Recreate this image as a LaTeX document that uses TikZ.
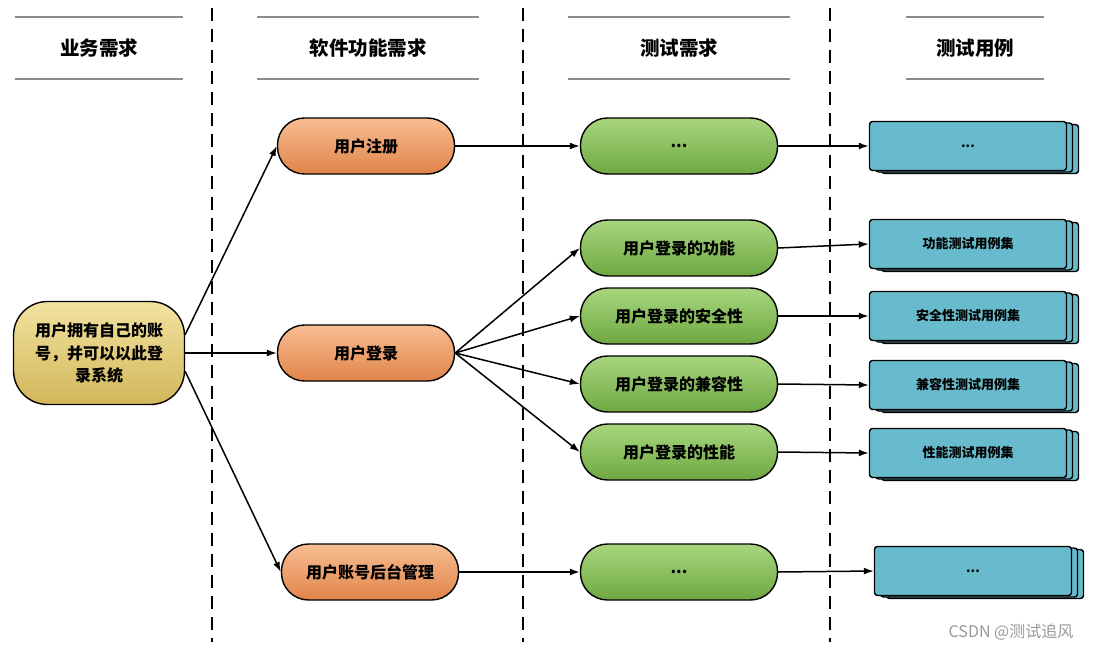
\documentclass[tikz,border=0pt]{standalone}
\usepackage{fontspec}
\setmainfont{Noto Sans CJK SC}
\usetikzlibrary{arrows.meta,shadows}
\definecolor{yL}{HTML}{F2E3A0}
\definecolor{yM}{HTML}{E4CC72}
\definecolor{yD}{HTML}{D2B65A}
\definecolor{oL}{HTML}{F8BE92}
\definecolor{oM}{HTML}{EF965A}
\definecolor{oD}{HTML}{E0844A}
\definecolor{gL}{HTML}{A8D67E}
\definecolor{gM}{HTML}{7FBA50}
\definecolor{gD}{HTML}{6EA842}
\definecolor{cy}{HTML}{67BBCC}
\definecolor{hl}{HTML}{8C8C8C}
\begin{document}
\begin{tikzpicture}[x=1pt,y=-1pt,
  hdr/.style={font=\bfseries\fontsize{19.5}{22}\selectfont, inner sep=0pt},
  hline/.style={draw=hl, line width=1.6pt},
  sepline/.style={dash pattern=on 13pt off 8pt, line width=1.5pt},
  basebox/.style={draw=black, line width=1.4pt, align=center, inner sep=0pt,
    font=\bfseries\fontsize{16}{22.5}\selectfont},
  biz/.style={basebox, minimum width=171pt, minimum height=103pt, rounded corners=34pt,
    top color=yL, middle color=yM, bottom color=yD},
  sw/.style={basebox, minimum width=177pt, minimum height=56pt, rounded corners=27pt,
    top color=oL, middle color=oM, bottom color=oD},
  tr/.style={basebox, minimum width=197pt, minimum height=56pt, rounded corners=27pt,
    top color=gL, middle color=gM, bottom color=gD},
  tc/.style={basebox, font=\bfseries\fontsize{13}{16}\selectfont,
    minimum width=197pt, minimum height=49pt, rounded corners=3pt, fill=cy,
    double copy shadow={shadow xshift=6pt, shadow yshift=-1.5pt}},
  conn/.style={line width=1.5pt, -{Latex[length=10pt,width=7pt]}}
]
\useasboundingbox (0,0) rectangle (1095,650);

% headers
\draw[hline] (15,17) -- (183,17) (15,79) -- (183,79);
\draw[hline] (257,17) -- (479,17) (257,79) -- (479,79);
\draw[hline] (568,17) -- (790,17) (568,79) -- (790,79);
\draw[hline] (906,17) -- (1044,17) (906,79) -- (1044,79);
\node[hdr] (h1) at (99,48) {业务需求};
\node[hdr] (h2) at (368,48) {软件功能需求};
\node[hdr] (h3) at (679,48) {测试需求};
\node[hdr] (h4) at (975,48) {测试用例};

% separators
\draw[sepline] (212,8) -- (212,642);
\draw[sepline] (523,8) -- (523,642);
\draw[sepline] (830,8) -- (830,642);

% nodes
\node[biz] (biz) at (99,353) {用户拥有自己的账\\号，并可以以此登\\录系统};
\node[sw] (reg) at (366,146) {用户注册};
\node[sw] (login) at (366,353) {用户登录};
\node[sw] (admin) at (370,572) {用户账号后台管理};

\node[tr] (t1) at (679,146) {...};
\node[tr] (t2) at (679,248) {用户登录的功能};
\node[tr] (t3) at (679,316) {用户登录的安全性};
\node[tr] (t4) at (679,384) {用户登录的兼容性};
\node[tr] (t5) at (679,452) {用户登录的性能};
\node[tr] (t6) at (679,572) {...};

\node[tc] (c1) at (968,146) {...};
\node[tc] (c2) at (968,244) {功能测试用例集};
\node[tc] (c3) at (968,316) {安全性测试用例集};
\node[tc] (c4) at (968,385) {兼容性测试用例集};
\node[tc] (c5) at (968,453) {性能测试用例集};
\node[tc] (c6) at (973,571) {...};

% connectors
\draw[conn] (biz.12) -- (reg.west);
\draw[conn] (biz.east) -- (login.west);
\draw[conn] (biz.-12) -- (admin.west);
\draw[conn] (reg.east) -- (t1.west);
\draw[conn] (login.east) -- (t2.west);
\draw[conn] (login.east) -- (t3.west);
\draw[conn] (login.east) -- (t4.west);
\draw[conn] (login.east) -- (t5.west);
\draw[conn] (admin.east) -- (t6.west);
\draw[conn] (t1.east) -- (c1.west);
\draw[conn] (t2.east) -- (c2.west);
\draw[conn] (t3.east) -- (c3.west);
\draw[conn] (t4.east) -- (c4.west);
\draw[conn] (t5.east) -- (c5.west);
\draw[conn] (t6.east) -- (c6.west);

% watermark
\node[text=black!40, font=\fontsize{16}{18}\selectfont, inner sep=0pt] (wm) at (1011,632) {CSDN @测试追风};
\end{tikzpicture}
\end{document}
